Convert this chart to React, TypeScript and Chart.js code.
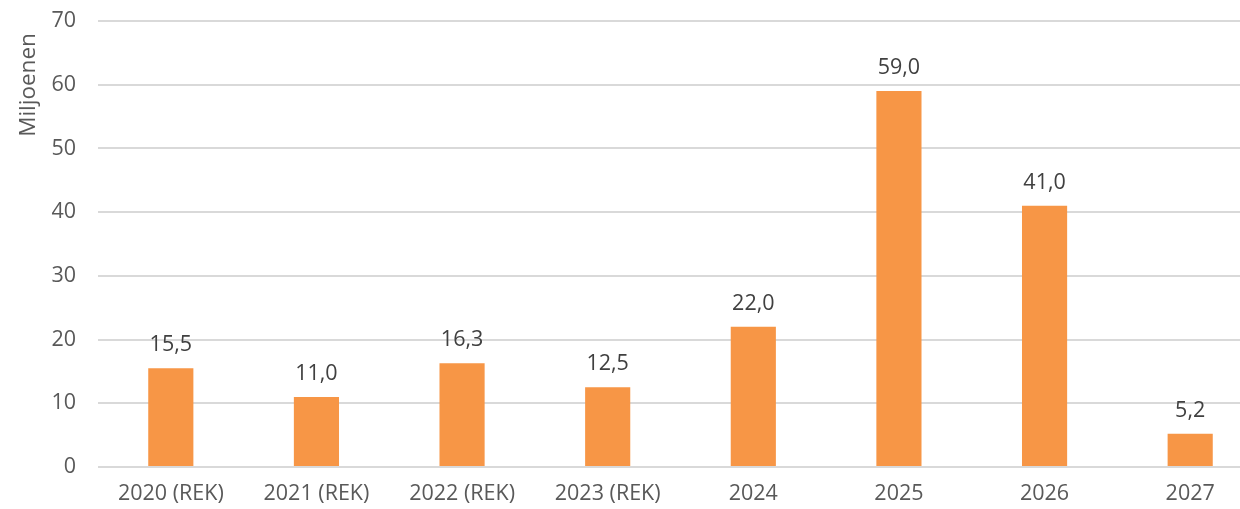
import React, { useEffect, useRef } from "react";
import { Chart, registerables } from "chart.js";

Chart.register(...registerables);

const categories = ["2020 (REK)", "2021 (REK)", "2022 (REK)", "2023 (REK)", "2024", "2025", "2026", "2027"];
const values = [15.5, 11.0, 16.3, 12.5, 22.0, 59.0, 41.0, 5.2];
const yTitle = "Miljoenen";

const FONT = "'Open Sans', sans-serif";
const TEXT = "#595959";
const SIZE = 21.5;

const labelPlugin = {
  id: "valueLabels",
  afterDatasetsDraw(chart: any) {
    const ctx = chart.ctx;
    const meta = chart.getDatasetMeta(0);
    ctx.save();
    ctx.font = `${SIZE}px ${FONT}`;
    ctx.fillStyle = "#404040";
    ctx.textAlign = "center";
    ctx.textBaseline = "middle";
    meta.data.forEach((bar: any, i: number) => {
      const txt = values[i].toFixed(1).replace(".", ",");
      ctx.fillText(txt, bar.x, bar.y - 23);
    });
    ctx.restore();
  },
};

const yTitlePlugin = {
  id: "yTitle",
  afterDraw(chart: any) {
    const ctx = chart.ctx;
    const area = chart.chartArea;
    ctx.save();
    ctx.font = `22.5px ${FONT}`;
    ctx.fillStyle = TEXT;
    ctx.textAlign = "center";
    ctx.textBaseline = "alphabetic";
    ctx.translate(area.left - 63, area.top + 64);
    ctx.rotate(-Math.PI / 2);
    ctx.fillText(yTitle, 0, 0);
    ctx.restore();
  },
};

export default function App() {
  const ref = useRef<HTMLCanvasElement>(null);
  useEffect(() => {
    document.body.style.margin = "0";
    document.body.style.overflow = "hidden";
    const chart = new Chart(ref.current!, {
      type: "bar",
      data: {
        labels: categories,
        datasets: [
          {
            data: values,
            backgroundColor: "#F79646",
            barPercentage: 0.62,
            categoryPercentage: 0.5,
          },
        ],
      },
      options: {
        responsive: false,
        animation: false,
        maintainAspectRatio: false,
        layout: { padding: { top: 21, right: 0, left: 20, bottom: 0 } },
        plugins: { legend: { display: false }, tooltip: { enabled: false } },
        scales: {
          x: {
            grid: { display: false, drawTicks: false },
            border: { display: false },
            ticks: { color: TEXT, font: { family: FONT, size: SIZE }, padding: 14, maxRotation: 0 },
            afterFit: (s: any) => {
              s.height = 42;
              s.paddingLeft = 0;
              s.paddingRight = 0;
            },
          },
          y: {
            min: 0,
            max: 70,
            grid: { color: "#D9D9D9", lineWidth: 2, drawTicks: false },
            border: { display: false },
            ticks: { stepSize: 10, color: TEXT, font: { family: FONT, size: SIZE }, padding: 22 },
            afterFit: (s: any) => {
              s.width = 78;
              s.paddingTop = 0;
              s.paddingBottom = 0;
            },
          },
        },
      },
      plugins: [labelPlugin, yTitlePlugin],
    });
    return () => chart.destroy();
  }, []);
  return (
    <div style={{ width: 1240, height: 509, overflow: "hidden" }}>
      <canvas ref={ref} width={1263} height={509} style={{ display: "block" }} />
    </div>
  );
}
